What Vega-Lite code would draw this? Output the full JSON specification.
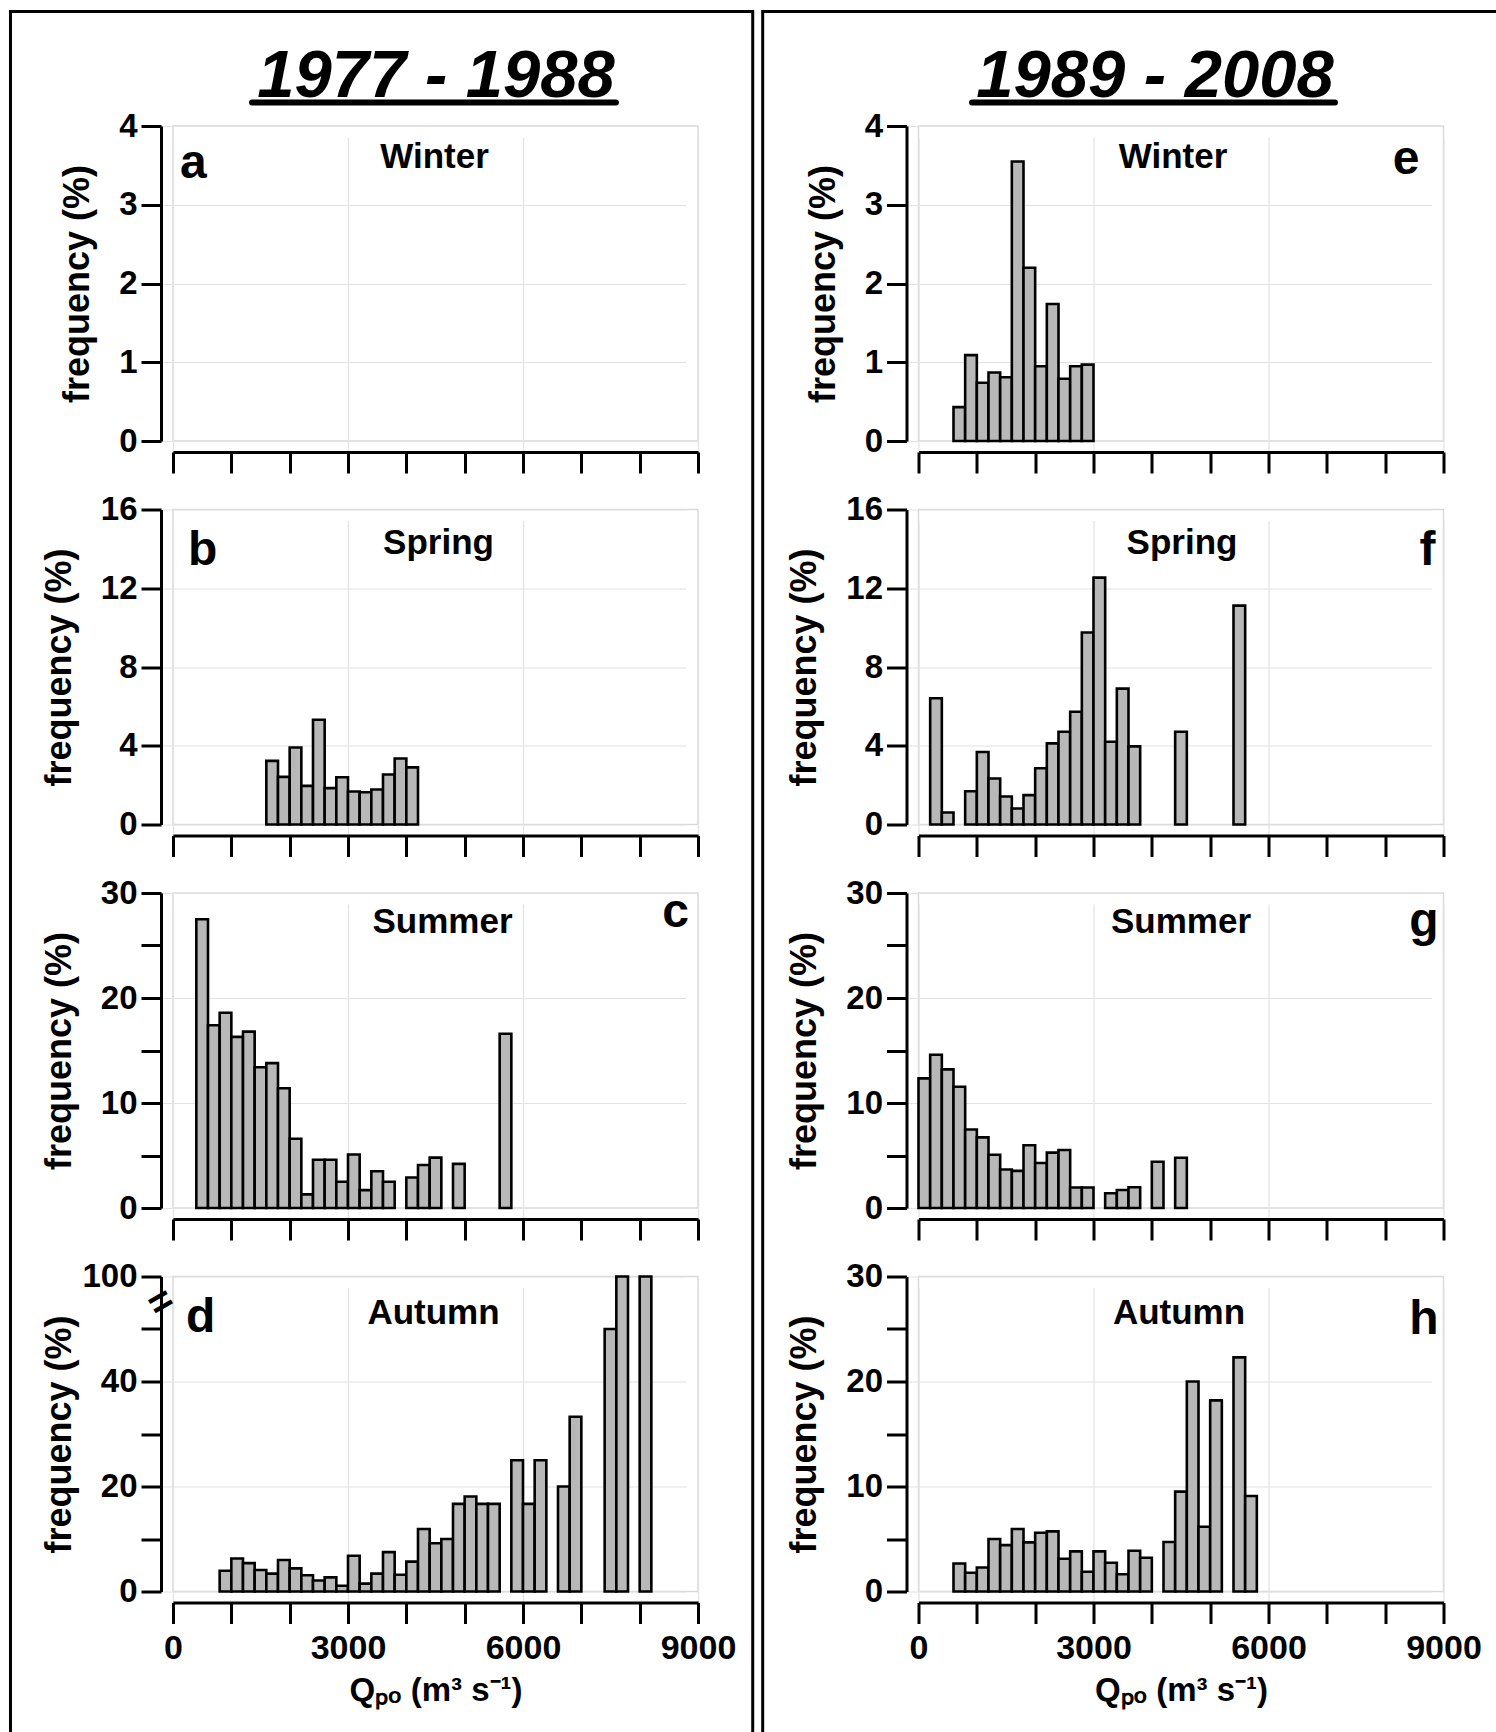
{
  "$schema": "https://vega.github.io/schema/vega-lite/v6.json",
  "padding": {"left": 8, "top": 9.5, "right": 0, "bottom": 0},
  "background": "white",
  "config": {
    "font": "Liberation Sans",
    "view": {"stroke": "#d9d9d9", "strokeWidth": 1.5},
    "scale": {"continuousPadding": 0},
    "axis": {"domainColor": "black", "domainWidth": 3, "tickColor": "black", "tickWidth": 3, "labelColor": "black", "labelFont": "Liberation Sans", "labelFontWeight": "bold", "labelFontSize": 33, "titleColor": "black", "titleFont": "Liberation Sans", "titleFontWeight": "bold", "gridColor": "#e2e2e2", "gridWidth": 1.2, "labelOverlap": false, "labelFlush": false, "labelBound": false, "grid": true},
    "axisX": {"offset": 11, "tickSize": 21, "labelPadding": 8, "labelFontSize": 34, "titleFontSize": 33, "titlePadding": 9},
    "axisY": {"offset": 12, "tickSize": 20, "labelPadding": 4, "titleFontSize": 36, "titlePadding": 22},
    "bar": {"fill": "#b8b8b8", "stroke": "black", "strokeWidth": 2.6},
    "text": {"color": "black"}
  },
  "datasets": {
    "bars": [
      {"p":"b","lo":1600,"hi":1800,"f":3.23},{"p":"b","lo":1800,"hi":2000,"f":2.42},{"p":"b","lo":2000,"hi":2200,"f":3.91},{"p":"b","lo":2200,"hi":2400,"f":1.96},{"p":"b","lo":2400,"hi":2600,"f":5.32},{"p":"b","lo":2600,"hi":2800,"f":1.85},{"p":"b","lo":2800,"hi":3000,"f":2.40},{"p":"b","lo":3000,"hi":3200,"f":1.68},{"p":"b","lo":3200,"hi":3400,"f":1.64},{"p":"b","lo":3400,"hi":3600,"f":1.78},{"p":"b","lo":3600,"hi":3800,"f":2.54},{"p":"b","lo":3800,"hi":4000,"f":3.35},{"p":"b","lo":4000,"hi":4200,"f":2.90},
      {"p":"c","lo":400,"hi":600,"f":27.5},{"p":"c","lo":600,"hi":800,"f":17.4},{"p":"c","lo":800,"hi":1000,"f":18.6},{"p":"c","lo":1000,"hi":1200,"f":16.3},{"p":"c","lo":1200,"hi":1400,"f":16.8},{"p":"c","lo":1400,"hi":1600,"f":13.4},{"p":"c","lo":1600,"hi":1800,"f":13.8},{"p":"c","lo":1800,"hi":2000,"f":11.4},{"p":"c","lo":2000,"hi":2200,"f":6.6},{"p":"c","lo":2200,"hi":2400,"f":1.3},{"p":"c","lo":2400,"hi":2600,"f":4.6},{"p":"c","lo":2600,"hi":2800,"f":4.6},{"p":"c","lo":2800,"hi":3000,"f":2.5},{"p":"c","lo":3000,"hi":3200,"f":5.1},{"p":"c","lo":3200,"hi":3400,"f":1.7},{"p":"c","lo":3400,"hi":3600,"f":3.5},{"p":"c","lo":3600,"hi":3800,"f":2.5},{"p":"c","lo":4000,"hi":4200,"f":2.9},{"p":"c","lo":4200,"hi":4400,"f":4.1},{"p":"c","lo":4400,"hi":4600,"f":4.8},{"p":"c","lo":4800,"hi":5000,"f":4.2},{"p":"c","lo":5600,"hi":5800,"f":16.6},
      {"p":"d","lo":800,"hi":1000,"f":3.96},{"p":"d","lo":1000,"hi":1200,"f":6.3},{"p":"d","lo":1200,"hi":1400,"f":5.4},{"p":"d","lo":1400,"hi":1600,"f":4.1},{"p":"d","lo":1600,"hi":1800,"f":3.4},{"p":"d","lo":1800,"hi":2000,"f":6.0},{"p":"d","lo":2000,"hi":2200,"f":4.4},{"p":"d","lo":2200,"hi":2400,"f":3.1},{"p":"d","lo":2400,"hi":2600,"f":2.1},{"p":"d","lo":2600,"hi":2800,"f":2.7},{"p":"d","lo":2800,"hi":3000,"f":1.1},{"p":"d","lo":3000,"hi":3200,"f":6.8},{"p":"d","lo":3200,"hi":3400,"f":1.5},{"p":"d","lo":3400,"hi":3600,"f":3.4},{"p":"d","lo":3600,"hi":3800,"f":7.5},{"p":"d","lo":3800,"hi":4000,"f":3.2},{"p":"d","lo":4000,"hi":4200,"f":5.7},{"p":"d","lo":4200,"hi":4400,"f":11.9},{"p":"d","lo":4400,"hi":4600,"f":9.2},{"p":"d","lo":4600,"hi":4800,"f":10.0},{"p":"d","lo":4800,"hi":5000,"f":16.7},{"p":"d","lo":5000,"hi":5200,"f":18.1},{"p":"d","lo":5200,"hi":5400,"f":16.7},{"p":"d","lo":5400,"hi":5600,"f":16.7},{"p":"d","lo":5800,"hi":6000,"f":25.0},{"p":"d","lo":6000,"hi":6200,"f":16.7},{"p":"d","lo":6200,"hi":6400,"f":25.0},{"p":"d","lo":6600,"hi":6800,"f":20.0},{"p":"d","lo":6800,"hi":7000,"f":33.3},{"p":"d","lo":7400,"hi":7600,"f":50.0},{"p":"d","lo":7600,"hi":7800,"f":100},{"p":"d","lo":8000,"hi":8200,"f":100},
      {"p":"e","lo":600,"hi":800,"f":0.43},{"p":"e","lo":800,"hi":1000,"f":1.09},{"p":"e","lo":1000,"hi":1200,"f":0.74},{"p":"e","lo":1200,"hi":1400,"f":0.87},{"p":"e","lo":1400,"hi":1600,"f":0.81},{"p":"e","lo":1600,"hi":1800,"f":3.55},{"p":"e","lo":1800,"hi":2000,"f":2.20},{"p":"e","lo":2000,"hi":2200,"f":0.95},{"p":"e","lo":2200,"hi":2400,"f":1.74},{"p":"e","lo":2400,"hi":2600,"f":0.79},{"p":"e","lo":2600,"hi":2800,"f":0.95},{"p":"e","lo":2800,"hi":3000,"f":0.97},
      {"p":"f","lo":200,"hi":400,"f":6.41},{"p":"f","lo":400,"hi":600,"f":0.61},{"p":"f","lo":800,"hi":1000,"f":1.69},{"p":"f","lo":1000,"hi":1200,"f":3.68},{"p":"f","lo":1200,"hi":1400,"f":2.34},{"p":"f","lo":1400,"hi":1600,"f":1.42},{"p":"f","lo":1600,"hi":1800,"f":0.81},{"p":"f","lo":1800,"hi":2000,"f":1.49},{"p":"f","lo":2000,"hi":2200,"f":2.86},{"p":"f","lo":2200,"hi":2400,"f":4.12},{"p":"f","lo":2400,"hi":2600,"f":4.71},{"p":"f","lo":2600,"hi":2800,"f":5.73},{"p":"f","lo":2800,"hi":3000,"f":9.75},{"p":"f","lo":3000,"hi":3200,"f":12.54},{"p":"f","lo":3200,"hi":3400,"f":4.20},{"p":"f","lo":3400,"hi":3600,"f":6.90},{"p":"f","lo":3600,"hi":3800,"f":3.97},{"p":"f","lo":4400,"hi":4600,"f":4.71},{"p":"f","lo":5400,"hi":5600,"f":11.12},
      {"p":"g","lo":0,"hi":200,"f":12.35},{"p":"g","lo":200,"hi":400,"f":14.6},{"p":"g","lo":400,"hi":600,"f":13.2},{"p":"g","lo":600,"hi":800,"f":11.55},{"p":"g","lo":800,"hi":1000,"f":7.47},{"p":"g","lo":1000,"hi":1200,"f":6.73},{"p":"g","lo":1200,"hi":1400,"f":5.07},{"p":"g","lo":1400,"hi":1600,"f":3.67},{"p":"g","lo":1600,"hi":1800,"f":3.54},{"p":"g","lo":1800,"hi":2000,"f":5.97},{"p":"g","lo":2000,"hi":2200,"f":4.28},{"p":"g","lo":2200,"hi":2400,"f":5.27},{"p":"g","lo":2400,"hi":2600,"f":5.52},{"p":"g","lo":2600,"hi":2800,"f":1.95},{"p":"g","lo":2800,"hi":3000,"f":1.95},{"p":"g","lo":3200,"hi":3400,"f":1.40},{"p":"g","lo":3400,"hi":3600,"f":1.72},{"p":"g","lo":3600,"hi":3800,"f":1.98},{"p":"g","lo":4000,"hi":4200,"f":4.40},{"p":"g","lo":4400,"hi":4600,"f":4.79},
      {"p":"h","lo":600,"hi":800,"f":2.67},{"p":"h","lo":800,"hi":1000,"f":1.78},{"p":"h","lo":1000,"hi":1200,"f":2.29},{"p":"h","lo":1200,"hi":1400,"f":5.0},{"p":"h","lo":1400,"hi":1600,"f":4.42},{"p":"h","lo":1600,"hi":1800,"f":5.95},{"p":"h","lo":1800,"hi":2000,"f":4.68},{"p":"h","lo":2000,"hi":2200,"f":5.6},{"p":"h","lo":2200,"hi":2400,"f":5.73},{"p":"h","lo":2400,"hi":2600,"f":3.12},{"p":"h","lo":2600,"hi":2800,"f":3.82},{"p":"h","lo":2800,"hi":3000,"f":1.88},{"p":"h","lo":3000,"hi":3200,"f":3.82},{"p":"h","lo":3200,"hi":3400,"f":2.74},{"p":"h","lo":3400,"hi":3600,"f":1.65},{"p":"h","lo":3600,"hi":3800,"f":3.88},{"p":"h","lo":3800,"hi":4000,"f":3.21},{"p":"h","lo":4200,"hi":4400,"f":4.71},{"p":"h","lo":4400,"hi":4600,"f":9.51},{"p":"h","lo":4600,"hi":4800,"f":20.0},{"p":"h","lo":4800,"hi":5000,"f":6.17},{"p":"h","lo":5000,"hi":5200,"f":18.2},{"p":"h","lo":5400,"hi":5600,"f":22.3},{"p":"h","lo":5600,"hi":5800,"f":9.1}
    ]
  },
  "columns": 2,
  "spacing": {"row": 68.5, "column": 220.5},
  "bounds": "flush",
  "concat": [
    {
      "width": 525, "height": 46.1, "view": {"stroke": null},
      "data": {"values": [{"t": "1977 - 1988"}]},
      "layer": [
        {"mark": {"type": "text", "fontSize": 67, "fontWeight": "bold", "fontStyle": "italic", "baseline": "alphabetic", "align": "center"},
         "encoding": {"x": {"datum": 4509, "type": "quantitative", "scale": {"domain": [0, 9000], "nice": false, "zero": false}, "axis": null}, "y": {"datum": 86.7, "type": "quantitative", "scale": {"domain": [0, 46.1], "reverse": true, "nice": false, "zero": false}, "axis": null}, "text": {"field": "t"}}},
        {"mark": {"type": "rule", "strokeWidth": 6, "strokeCap": "round", "color": "black"},
         "encoding": {"x": {"datum": 1354, "type": "quantitative"}, "x2": {"datum": 7594}, "y": {"datum": 92, "type": "quantitative"}}},
        {"mark": {"type": "rect", "fill": "white", "fillOpacity": 0, "stroke": "black", "strokeWidth": 3},
         "encoding": {"x": {"datum": -2786, "type": "quantitative"}, "x2": {"datum": 9938}, "y": {"datum": 1, "type": "quantitative"}, "y2": {"datum": 1735}}}
      ]
    },
    {
      "width": 525, "height": 46.1, "view": {"stroke": null},
      "data": {"values": [{"t": "1989 - 2008"}]},
      "layer": [
        {"mark": {"type": "text", "fontSize": 67, "fontWeight": "bold", "fontStyle": "italic", "baseline": "alphabetic", "align": "center"},
         "encoding": {"x": {"datum": 4054, "type": "quantitative", "scale": {"domain": [0, 9000], "nice": false, "zero": false}, "axis": null}, "y": {"datum": 86.7, "type": "quantitative", "scale": {"domain": [0, 46.1], "reverse": true, "nice": false, "zero": false}, "axis": null}, "text": {"field": "t"}}},
        {"mark": {"type": "rule", "strokeWidth": 6, "strokeCap": "round", "color": "black"},
         "encoding": {"x": {"datum": 917, "type": "quantitative"}, "x2": {"datum": 7140}, "y": {"datum": 92, "type": "quantitative"}}},
        {"mark": {"type": "rect", "fill": "white", "fillOpacity": 0, "stroke": "black", "strokeWidth": 3},
         "encoding": {"x": {"datum": -2671, "type": "quantitative"}, "x2": {"datum": 10329}, "y": {"datum": 1, "type": "quantitative"}, "y2": {"datum": 1735}}}
      ]
    },
    {
      "width": 525, "height": 315,
      "layer": [
        {"data": {"name": "bars"}, "transform": [{"filter": "datum.p === 'a'"}],
         "mark": {"type": "bar"},
         "encoding": {
           "x": {"field": "lo", "type": "quantitative", "scale": {"domain": [0, 9000], "nice": false}, "axis": {"values": [0,1000,2000,3000,4000,5000,6000,7000,8000,9000], "labels": false, "title": null, "gridOpacity": {"condition": {"test": "datum.value % 3000 === 0", "value": 1}, "value": 0}}},
           "x2": {"field": "hi"},
           "y": {"field": "f", "type": "quantitative", "scale": {"domain": [0, 4], "nice": false}, "axis": {"title": "frequency (%)", "values": [0,0.5,1,1.5,2,2.5,3,3.5,4], "labelExpr": "datum.value % 1 === 0 ? format(datum.value, 'd') : ''", "gridOpacity": {"condition": {"test": "datum.value % 1 === 0", "value": 1}, "value": 0}}},
           "y2": {"datum": 0}
         }},
        {"data": {"values": [{"t": "Winter"}]}, "mark": {"type": "text", "fontSize": 35, "fontWeight": "bold", "baseline": "alphabetic", "align": "center", "dy": 42, "dx": -1},
         "encoding": {"x": {"datum": 4500, "type": "quantitative"}, "y": {"datum": 4, "type": "quantitative"}, "text": {"field": "t"}}},
        {"data": {"values": [{"t": "a"}]}, "mark": {"type": "text", "fontSize": 48, "fontWeight": "bold", "baseline": "alphabetic", "align": "left", "dy": 52, "dx": 7},
         "encoding": {"x": {"datum": 0, "type": "quantitative"}, "y": {"datum": 4, "type": "quantitative"}, "text": {"field": "t"}}}
      ]
    },
    {
      "width": 525, "height": 315,
      "layer": [
        {"data": {"name": "bars"}, "transform": [{"filter": "datum.p === 'e'"}],
         "mark": {"type": "bar"},
         "encoding": {
           "x": {"field": "lo", "type": "quantitative", "scale": {"domain": [0, 9000], "nice": false}, "axis": {"values": [0,1000,2000,3000,4000,5000,6000,7000,8000,9000], "labels": false, "title": null, "gridOpacity": {"condition": {"test": "datum.value % 3000 === 0", "value": 1}, "value": 0}}},
           "x2": {"field": "hi"},
           "y": {"field": "f", "type": "quantitative", "scale": {"domain": [0, 4], "nice": false}, "axis": {"title": "frequency (%)", "values": [0,0.5,1,1.5,2,2.5,3,3.5,4], "labelExpr": "datum.value % 1 === 0 ? format(datum.value, 'd') : ''", "gridOpacity": {"condition": {"test": "datum.value % 1 === 0", "value": 1}, "value": 0}}},
           "y2": {"datum": 0}
         }},
        {"data": {"values": [{"t": "Winter"}]}, "mark": {"type": "text", "fontSize": 35, "fontWeight": "bold", "baseline": "alphabetic", "align": "center", "dy": 42, "dx": -8},
         "encoding": {"x": {"datum": 4500, "type": "quantitative"}, "y": {"datum": 4, "type": "quantitative"}, "text": {"field": "t"}}},
        {"data": {"values": [{"t": "e"}]}, "mark": {"type": "text", "fontSize": 48, "fontWeight": "bold", "baseline": "alphabetic", "align": "right", "dy": 48, "dx": -24},
         "encoding": {"x": {"datum": 9000, "type": "quantitative"}, "y": {"datum": 4, "type": "quantitative"}, "text": {"field": "t"}}}
      ]
    },
    {
      "width": 525, "height": 315,
      "layer": [
        {"data": {"name": "bars"}, "transform": [{"filter": "datum.p === 'b'"}],
         "mark": {"type": "bar"},
         "encoding": {
           "x": {"field": "lo", "type": "quantitative", "scale": {"domain": [0, 9000], "nice": false}, "axis": {"values": [0,1000,2000,3000,4000,5000,6000,7000,8000,9000], "labels": false, "title": null, "gridOpacity": {"condition": {"test": "datum.value % 3000 === 0", "value": 1}, "value": 0}}},
           "x2": {"field": "hi"},
           "y": {"field": "f", "type": "quantitative", "scale": {"domain": [0, 16], "nice": false}, "axis": {"title": "frequency (%)", "values": [0,2,4,6,8,10,12,14,16], "labelExpr": "datum.value % 4 === 0 ? format(datum.value, 'd') : ''", "gridOpacity": {"condition": {"test": "datum.value % 4 === 0", "value": 1}, "value": 0}}},
           "y2": {"datum": 0}
         }},
        {"data": {"values": [{"t": "Spring"}]}, "mark": {"type": "text", "fontSize": 35, "fontWeight": "bold", "baseline": "alphabetic", "align": "center", "dy": 44, "dx": 3},
         "encoding": {"x": {"datum": 4500, "type": "quantitative"}, "y": {"datum": 16, "type": "quantitative"}, "text": {"field": "t"}}},
        {"data": {"values": [{"t": "b"}]}, "mark": {"type": "text", "fontSize": 48, "fontWeight": "bold", "baseline": "alphabetic", "align": "left", "dy": 55, "dx": 15},
         "encoding": {"x": {"datum": 0, "type": "quantitative"}, "y": {"datum": 16, "type": "quantitative"}, "text": {"field": "t"}}}
      ]
    },
    {
      "width": 525, "height": 315,
      "layer": [
        {"data": {"name": "bars"}, "transform": [{"filter": "datum.p === 'f'"}],
         "mark": {"type": "bar"},
         "encoding": {
           "x": {"field": "lo", "type": "quantitative", "scale": {"domain": [0, 9000], "nice": false}, "axis": {"values": [0,1000,2000,3000,4000,5000,6000,7000,8000,9000], "labels": false, "title": null, "gridOpacity": {"condition": {"test": "datum.value % 3000 === 0", "value": 1}, "value": 0}}},
           "x2": {"field": "hi"},
           "y": {"field": "f", "type": "quantitative", "scale": {"domain": [0, 16], "nice": false}, "axis": {"title": "frequency (%)", "values": [0,2,4,6,8,10,12,14,16], "labelExpr": "datum.value % 4 === 0 ? format(datum.value, 'd') : ''", "gridOpacity": {"condition": {"test": "datum.value % 4 === 0", "value": 1}, "value": 0}}},
           "y2": {"datum": 0}
         }},
        {"data": {"values": [{"t": "Spring"}]}, "mark": {"type": "text", "fontSize": 35, "fontWeight": "bold", "baseline": "alphabetic", "align": "center", "dy": 44, "dx": 1},
         "encoding": {"x": {"datum": 4500, "type": "quantitative"}, "y": {"datum": 16, "type": "quantitative"}, "text": {"field": "t"}}},
        {"data": {"values": [{"t": "f"}]}, "mark": {"type": "text", "fontSize": 48, "fontWeight": "bold", "baseline": "alphabetic", "align": "right", "dy": 55, "dx": -8},
         "encoding": {"x": {"datum": 9000, "type": "quantitative"}, "y": {"datum": 16, "type": "quantitative"}, "text": {"field": "t"}}}
      ]
    },
    {
      "width": 525, "height": 315,
      "layer": [
        {"data": {"name": "bars"}, "transform": [{"filter": "datum.p === 'c'"}],
         "mark": {"type": "bar"},
         "encoding": {
           "x": {"field": "lo", "type": "quantitative", "scale": {"domain": [0, 9000], "nice": false}, "axis": {"values": [0,1000,2000,3000,4000,5000,6000,7000,8000,9000], "labels": false, "title": null, "gridOpacity": {"condition": {"test": "datum.value % 3000 === 0", "value": 1}, "value": 0}}},
           "x2": {"field": "hi"},
           "y": {"field": "f", "type": "quantitative", "scale": {"domain": [0, 30], "nice": false}, "axis": {"title": "frequency (%)", "values": [0,5,10,15,20,25,30], "labelExpr": "datum.value % 10 === 0 ? format(datum.value, 'd') : ''", "gridOpacity": {"condition": {"test": "datum.value % 10 === 0", "value": 1}, "value": 0}}},
           "y2": {"datum": 0}
         }},
        {"data": {"values": [{"t": "Summer"}]}, "mark": {"type": "text", "fontSize": 35, "fontWeight": "bold", "baseline": "alphabetic", "align": "center", "dy": 40, "dx": 7},
         "encoding": {"x": {"datum": 4500, "type": "quantitative"}, "y": {"datum": 30, "type": "quantitative"}, "text": {"field": "t"}}},
        {"data": {"values": [{"t": "c"}]}, "mark": {"type": "text", "fontSize": 48, "fontWeight": "bold", "baseline": "alphabetic", "align": "right", "dy": 34, "dx": -9},
         "encoding": {"x": {"datum": 9000, "type": "quantitative"}, "y": {"datum": 30, "type": "quantitative"}, "text": {"field": "t"}}}
      ]
    },
    {
      "width": 525, "height": 315,
      "layer": [
        {"data": {"name": "bars"}, "transform": [{"filter": "datum.p === 'g'"}],
         "mark": {"type": "bar"},
         "encoding": {
           "x": {"field": "lo", "type": "quantitative", "scale": {"domain": [0, 9000], "nice": false}, "axis": {"values": [0,1000,2000,3000,4000,5000,6000,7000,8000,9000], "labels": false, "title": null, "gridOpacity": {"condition": {"test": "datum.value % 3000 === 0", "value": 1}, "value": 0}}},
           "x2": {"field": "hi"},
           "y": {"field": "f", "type": "quantitative", "scale": {"domain": [0, 30], "nice": false}, "axis": {"title": "frequency (%)", "values": [0,5,10,15,20,25,30], "labelExpr": "datum.value % 10 === 0 ? format(datum.value, 'd') : ''", "gridOpacity": {"condition": {"test": "datum.value % 10 === 0", "value": 1}, "value": 0}}},
           "y2": {"datum": 0}
         }},
        {"data": {"values": [{"t": "Summer"}]}, "mark": {"type": "text", "fontSize": 35, "fontWeight": "bold", "baseline": "alphabetic", "align": "center", "dy": 40, "dx": 0},
         "encoding": {"x": {"datum": 4500, "type": "quantitative"}, "y": {"datum": 30, "type": "quantitative"}, "text": {"field": "t"}}},
        {"data": {"values": [{"t": "g"}]}, "mark": {"type": "text", "fontSize": 48, "fontWeight": "bold", "baseline": "alphabetic", "align": "right", "dy": 43, "dx": -5},
         "encoding": {"x": {"datum": 9000, "type": "quantitative"}, "y": {"datum": 30, "type": "quantitative"}, "text": {"field": "t"}}}
      ]
    },
    {
      "width": 525, "height": 315,
      "layer": [
        {"data": {"name": "bars"}, "transform": [{"filter": "datum.p === 'd'"}],
         "mark": {"type": "bar"},
         "encoding": {
           "x": {"field": "lo", "type": "quantitative", "scale": {"domain": [0, 9000], "nice": false}, "axis": {"values": [0,1000,2000,3000,4000,5000,6000,7000,8000,9000], "labelExpr": "datum.value % 3000 === 0 ? format(datum.value, 'd') : ''", "title": "Qₚₒ (m³ s⁻¹)", "gridOpacity": {"condition": {"test": "datum.value % 3000 === 0", "value": 1}, "value": 0}}},
           "x2": {"field": "hi"},
           "y": {"field": "f", "type": "quantitative", "scale": {"domain": [0, 60], "clamp": true, "nice": false}, "axis": {"title": "frequency (%)", "titleX": -83, "values": [0,10,20,30,40,50,60], "labelExpr": "datum.value === 60 ? '100' : (datum.value % 20 === 0 ? format(datum.value, 'd') : '')", "gridOpacity": {"condition": {"test": "datum.value % 20 === 0", "value": 1}, "value": 0}}},
           "y2": {"datum": 0}
         }},
        {"data": {"values": [{"t": "Autumn"}]}, "mark": {"type": "text", "fontSize": 35, "fontWeight": "bold", "baseline": "alphabetic", "align": "center", "dy": 47, "dx": -2},
         "encoding": {"x": {"datum": 4500, "type": "quantitative"}, "y": {"datum": 60, "type": "quantitative"}, "text": {"field": "t"}}},
        {"data": {"values": [{"t": "d"}]}, "mark": {"type": "text", "fontSize": 48, "fontWeight": "bold", "baseline": "alphabetic", "align": "left", "dy": 55, "dx": 13},
         "encoding": {"x": {"datum": 0, "type": "quantitative"}, "y": {"datum": 60, "type": "quantitative"}, "text": {"field": "t"}}},
        {"data": {"values": [{"t": "="}]}, "mark": {"type": "text", "fontSize": 40, "fontWeight": "bold", "angle": -30, "align": "center", "baseline": "middle"},
         "encoding": {"x": {"datum": -206, "type": "quantitative"}, "y": {"datum": 55, "type": "quantitative"}, "text": {"field": "t"}}}
      ]
    },
    {
      "width": 525, "height": 315,
      "layer": [
        {"data": {"name": "bars"}, "transform": [{"filter": "datum.p === 'h'"}],
         "mark": {"type": "bar"},
         "encoding": {
           "x": {"field": "lo", "type": "quantitative", "scale": {"domain": [0, 9000], "nice": false}, "axis": {"values": [0,1000,2000,3000,4000,5000,6000,7000,8000,9000], "labelExpr": "datum.value % 3000 === 0 ? format(datum.value, 'd') : ''", "title": "Qₚₒ (m³ s⁻¹)", "gridOpacity": {"condition": {"test": "datum.value % 3000 === 0", "value": 1}, "value": 0}}},
           "x2": {"field": "hi"},
           "y": {"field": "f", "type": "quantitative", "scale": {"domain": [0, 30], "nice": false}, "axis": {"title": "frequency (%)", "values": [0,5,10,15,20,25,30], "labelExpr": "datum.value % 10 === 0 ? format(datum.value, 'd') : ''", "gridOpacity": {"condition": {"test": "datum.value % 10 === 0", "value": 1}, "value": 0}}},
           "y2": {"datum": 0}
         }},
        {"data": {"values": [{"t": "Autumn"}]}, "mark": {"type": "text", "fontSize": 35, "fontWeight": "bold", "baseline": "alphabetic", "align": "center", "dy": 47, "dx": -2},
         "encoding": {"x": {"datum": 4500, "type": "quantitative"}, "y": {"datum": 30, "type": "quantitative"}, "text": {"field": "t"}}},
        {"data": {"values": [{"t": "h"}]}, "mark": {"type": "text", "fontSize": 48, "fontWeight": "bold", "baseline": "alphabetic", "align": "right", "dy": 57, "dx": -5},
         "encoding": {"x": {"datum": 9000, "type": "quantitative"}, "y": {"datum": 30, "type": "quantitative"}, "text": {"field": "t"}}}
      ]
    }
  ]
}
